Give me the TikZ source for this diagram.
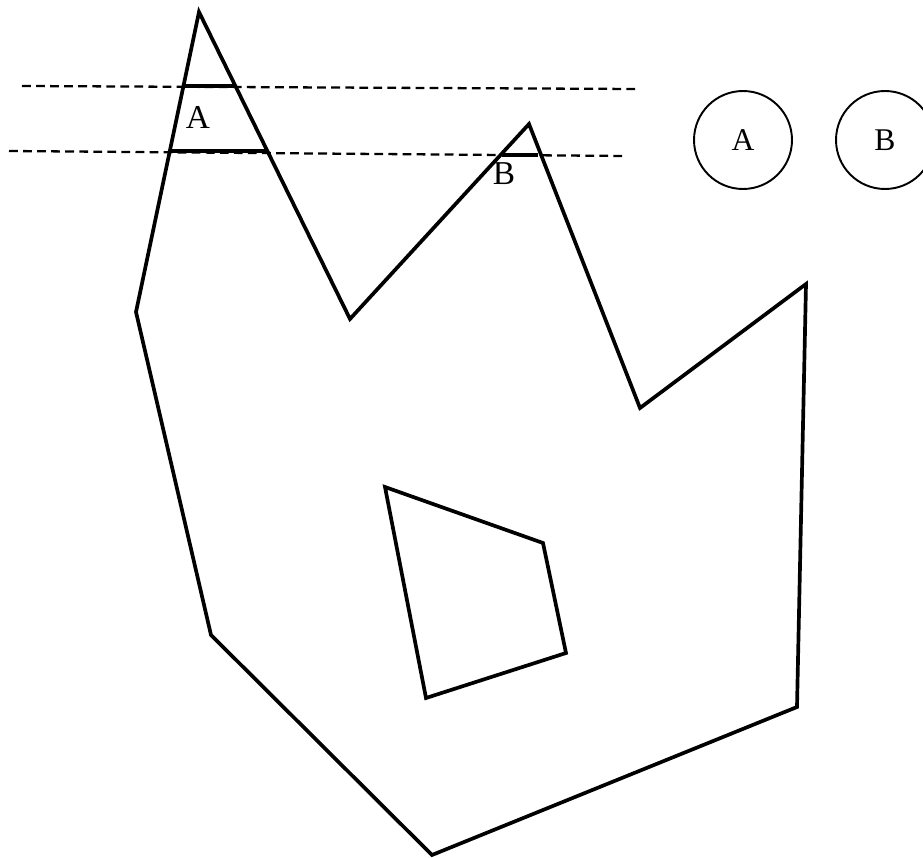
\documentclass[tikz,border=0pt]{standalone}
\usepackage{fontspec}
\setmainfont{Liberation Serif}
\usetikzlibrary{positioning}

\begin{document}
\begin{tikzpicture}[
  x=0.02cm, y=-0.02cm,
  edge/.style={line width=2.1pt, line join=miter},
  cut/.style={line width=1.3pt, dash pattern=on 5pt off 3pt},
  band/.style={line width=2.6pt},
  lbl/.style={font=\fontsize{19}{19}\selectfont, inner sep=0pt},
  part/.style={draw, circle, line width=1.1pt, minimum size=1.96cm, inner sep=0pt,
               font=\fontsize{18}{18}\selectfont},
]
\useasboundingbox (0,0) rectangle (923,858);
% outline
\coordinate (p1) at (199,12);
\coordinate (p2) at (136,312);
\coordinate (p3) at (211,635);
\coordinate (p4) at (432,855);
\coordinate (p5) at (797,707);
\coordinate (p6) at (806,284);
\coordinate (p7) at (640,408);
\coordinate (p8) at (529,124);
\coordinate (p9) at (350,319);
\draw[edge] (p1) -- (p2) -- (p3) -- (p4) -- (p5) -- (p6) -- (p7) -- (p8) -- (p9) -- cycle;
% hole
\coordinate (h1) at (385,487);
\coordinate (h2) at (543,543);
\coordinate (h3) at (566,653);
\coordinate (h4) at (426,698);
\draw[edge] (h1) -- (h2) -- (h3) -- (h4) -- cycle;
% scan lines
\coordinate (s1) at (22,86);
\coordinate (s2) at (636,89);
\coordinate (s3) at (9,151);
\coordinate (s4) at (625,156);
\draw[cut] (s1) -- (s2);
\draw[cut] (s3) -- (s4);
% slabs
\coordinate (a1) at (185,86);
\coordinate (a2) at (234,86);
\coordinate (a3) at (171,151);
\coordinate (a4) at (267,151);
\coordinate (b1) at (502,155);
\coordinate (b2) at (538,155);
\draw[band] (a1) -- (a2);
\draw[band] (a3) -- (a4);
\draw[band] (b1) -- (b2);
% labels
\node[lbl] (la) at (198,117) {A};
\node[lbl] (lb) at (504,174) {B};
\node[part] (ca) at (743,140) {A};
\node[part] (cb) at (885,140) {B};
\end{tikzpicture}
\end{document}
